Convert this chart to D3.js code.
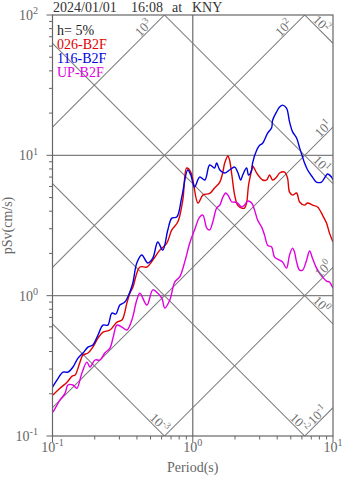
<!DOCTYPE html>
<html><head><meta charset="utf-8">
<script src="https://cdn.jsdelivr.net/npm/d3@7"></script>
<style>body{margin:0;background:#fff}svg{display:block}text{font-family:"Liberation Serif","Times New Roman",serif}</style>
</head><body><svg id="c" width="347" height="478"></svg>
<script>
const titleParts = ["2024/01/01","16:08","at","KNY"];
const legendLabels = ["h= 5%","026-B2F","116-B2F","UP-B2F"];
const seriesNames = ["026-B2F","116-B2F","UP-B2F"];
const seriesColors = ["#e00000","#0000e0","#e000e0"];
const xTicks = [0.1,1,10], xTickExp = ["-1","0","1"];
const yTicks = [0.1,1,10,100], yTickExp = ["-1","0","1","2"];
const dispLines = [100,10,1,0.1,0.01];         // Sd, cm
const dispLabels = ["2","1","0","-2","-3"];
const accLines = [1000,100,10,1,0.1];          // Sa, cm/s2
const accLabels = ["3","2","1","0","-1"];

const redT = [0.1008,0.113,0.127,0.138,0.145,0.157,0.165,0.179,0.194,0.211,0.229,0.257,0.288,0.313,0.339,0.356,0.374,0.420,0.471,0.519,0.582,0.653,0.709,0.782,0.849,0.906,0.968,1.09,1.18,1.32,1.43,1.56,1.64,1.69,1.78,1.83,1.90,1.99,2.09,2.23,2.34,2.42,2.50,2.63,2.67,2.86,3.00,3.15,3.36,3.53,3.71,3.96,4.16,4.52,4.74,4.90,5.15,5.50,5.78,6.27,6.59,7.14,7.76,8.42,8.99,9.44,10.0];
const redSv = [0.196,0.219,0.242,0.267,0.272,0.336,0.377,0.390,0.430,0.499,0.550,0.569,0.648,0.670,0.885,1.04,1.15,1.60,1.60,1.79,2.11,2.37,2.94,3.35,4.80,8.12,7.60,4.57,5.21,5.35,5.85,6.45,7.60,8.81,9.89,9.26,7.24,5.21,4.42,4.21,4.21,4.57,6.14,7.86,8.39,7.48,7.00,6.67,6.67,7.24,6.67,7.00,7.48,7.60,6.89,5.47,5.21,5.39,4.65,4.42,4.57,4.42,4.28,3.75,3.29,2.79,2.41];
const blueT = [0.100,0.1076,0.1188,0.1288,0.140,0.152,0.165,0.179,0.194,0.211,0.229,0.248,0.265,0.283,0.302,0.328,0.356,0.374,0.399,0.433,0.478,0.519,0.563,0.611,0.664,0.709,0.769,0.835,0.921,0.968,1.03,1.12,1.22,1.32,1.43,1.48,1.56,1.69,1.83,1.99,2.09,2.20,2.27,2.42,2.50,2.63,2.67,2.86,3.00,3.15,3.42,3.65,3.71,3.96,4.16,4.37,4.66,4.90,5.15,5.50,5.78,6.07,6.27,6.59,7.14,7.63,8.28,8.70,9.14,9.75,10.0];
const blueSv = [0.223,0.250,0.285,0.285,0.310,0.359,0.390,0.430,0.445,0.524,0.617,0.617,0.751,0.740,0.857,0.900,1.06,1.23,1.71,1.95,1.71,1.85,2.41,2.11,2.94,3.57,3.63,5.04,7.86,7.24,5.94,7.00,6.67,8.53,8.12,8.81,7.86,7.48,7.86,8.25,7.60,6.67,7.24,8.12,7.24,7.86,8.81,10.9,11.8,12.2,14.4,15.7,17.8,20.4,22.1,22.8,21.7,17.3,14.7,13.3,11.3,9.72,8.81,7.86,7.00,6.45,6.45,6.89,7.36,7.00,6.67];
const magT = [0.1008,0.1076,0.113,0.123,0.1288,0.140,0.149,0.162,0.176,0.185,0.201,0.218,0.236,0.257,0.270,0.288,0.313,0.339,0.368,0.399,0.420,0.471,0.519,0.563,0.602,0.632,0.686,0.744,0.807,0.877,0.952,1.03,1.12,1.18,1.26,1.32,1.39,1.48,1.56,1.64,1.72,1.80,1.90,1.99,2.09,2.23,2.34,2.46,2.63,2.76,2.90,3.10,3.25,3.42,3.65,3.83,4.16,4.37,4.66,4.90,5.15,5.32,5.50,5.78,6.07,6.48,6.81,7.14,7.63,8.01,8.42,8.99,9.44,10.0];
const magSv = [0.148,0.166,0.180,0.202,0.231,0.231,0.219,0.281,0.336,0.310,0.348,0.348,0.390,0.423,0.499,0.617,0.597,0.569,0.670,0.931,1.04,0.857,1.10,1.04,0.961,0.816,0.931,1.25,1.36,1.74,2.37,2.94,3.63,3.75,3.03,2.94,3.35,4.21,4.42,5.04,5.39,5.12,4.65,4.65,4.57,4.28,4.42,4.72,4.57,4.07,3.46,3.08,2.70,2.29,2.22,1.88,1.79,1.74,1.57,1.95,2.18,2.04,1.74,1.52,1.52,1.79,2.08,1.85,1.57,1.45,1.36,1.27,1.25,1.13];

const svg = d3.select("#c");
const L=52.5, R=333, T=15, B=436;
const x = d3.scaleLog().domain([0.1,10]).range([L,R]);
const y = d3.scaleLog().domain([0.1,100]).range([B,T]);
const axisCol="#666", gridCol="#808080", diagCol="#7a7a7a";
const TWO_PI = 2*Math.PI;

svg.append("clipPath").attr("id","clip").append("rect").attr("x",L).attr("y",T).attr("width",R-L).attr("height",B-T);
const g = svg.append("g").attr("clip-path","url(#clip)");

// grid
[1,10].forEach(v=>g.append("line").attr("x1",L).attr("x2",R).attr("y1",y(v)).attr("y2",y(v)).attr("stroke",gridCol).attr("stroke-width",1.4));
g.append("line").attr("x1",x(1)).attr("x2",x(1)).attr("y1",T).attr("y2",B).attr("stroke",gridCol).attr("stroke-width",1.4);

// diagonal lines
const dispSeg = sd => { const t0=Math.max(0.1,TWO_PI*sd/100), t1=Math.min(10,TWO_PI*sd/0.1); return [[t0,TWO_PI*sd/t0],[t1,TWO_PI*sd/t1]]; };
const accSeg = sa => { const t0=Math.max(0.1,TWO_PI*0.1/sa), t1=Math.min(10,TWO_PI*100/sa); return [[t0,sa*t0/TWO_PI],[t1,sa*t1/TWO_PI]]; };
const diagLayer = svg.append("g");
function supText(sel, base, exp, size){
  sel.append("tspan").text(base);
  sel.append("tspan").attr("dy",-size*0.4).attr("font-size",size*0.72).text(exp);
}
dispLines.forEach((sd,i)=>{
  const s = dispSeg(sd);
  g.append("line").attr("x1",x(s[0][0])).attr("y1",y(s[0][1])).attr("x2",x(s[1][0])).attr("y2",y(s[1][1])).attr("stroke",diagCol).attr("stroke-width",1.05);
  const ex=x(s[1][0]), ey=y(s[1][1]);
  const along = (s[1][0]>=9.99)?22:13, perp=6;
  const cx = ex - along/Math.SQRT2 + perp/Math.SQRT2, cy = ey - along/Math.SQRT2 - perp/Math.SQRT2;
  const t = diagLayer.append("text").attr("transform",`translate(${cx},${cy}) rotate(45)`).attr("text-anchor","middle").attr("dy","0.35em").attr("font-size",13).attr("fill","#707070");
  supText(t,"10",dispLabels[i],13);
});
accLines.forEach((sa,i)=>{
  const s = accSeg(sa);
  g.append("line").attr("x1",x(s[0][0])).attr("y1",y(s[0][1])).attr("x2",x(s[1][0])).attr("y2",y(s[1][1])).attr("stroke",diagCol).attr("stroke-width",1.05);
  const ex=x(s[1][0]), ey=y(s[1][1]);
  const along = (s[1][1]>=99.9)?24:(sa<0.5?16:8), perp=6;
  const cx = ex - along/Math.SQRT2 - perp/Math.SQRT2, cy = ey + along/Math.SQRT2 - perp/Math.SQRT2;
  const t = diagLayer.append("text").attr("transform",`translate(${cx},${cy}) rotate(-45)`).attr("text-anchor","middle").attr("dy","0.35em").attr("font-size",13).attr("fill","#707070");
  supText(t,"10",accLabels[i],13);
});

// series
const series = [[redT,redSv],[blueT,blueSv],[magT,magSv]];
const line = d3.line().x(d=>x(d[0])).y(d=>y(d[1])).curve(d3.curveCatmullRom.alpha(0.5));
series.forEach((s,i)=>{
  const pts = s[0].map((t,k)=>[t,s[1][k]]);
  g.append("path").datum(pts).attr("d",line).attr("fill","none").attr("stroke",seriesColors[i]).attr("stroke-width",1.4).attr("stroke-linejoin","round");
});

// frame
svg.append("rect").attr("x",L).attr("y",T).attr("width",R-L).attr("height",B-T).attr("fill","none").attr("stroke",axisCol).attr("stroke-width",1.2);

// ticks
const ax = svg.append("g").attr("stroke",axisCol).attr("stroke-width",1);
for (let e=-1;e<1;e++) for (let m=1;m<=9;m++){ const v=m*Math.pow(10,e); ax.append("line").attr("x1",x(v)).attr("x2",x(v)).attr("y1",B).attr("y2",B+(m===1?6:3.5)); }
ax.append("line").attr("x1",x(10)).attr("x2",x(10)).attr("y1",B).attr("y2",B+6);
for (let e=-1;e<2;e++) for (let m=1;m<=9;m++){ const v=m*Math.pow(10,e); ax.append("line").attr("y1",y(v)).attr("y2",y(v)).attr("x1",L).attr("x2",L-(m===1?6:3.5)); }
ax.append("line").attr("y1",y(100)).attr("y2",y(100)).attr("x1",L).attr("x2",L-6);

// tick labels
xTicks.forEach((v,i)=>{
  const t=svg.append("text").attr("x",x(v)).attr("y",452).attr("text-anchor","middle").attr("font-size",14).attr("fill","#666");
  supText(t,"10",xTickExp[i],14);
});
yTicks.forEach((v,i)=>{
  const t=svg.append("text").attr("x",38).attr("y",y(v)+5).attr("text-anchor","end").attr("font-size",14).attr("fill","#666");
  supText(t,"10",yTickExp[i],14);
});

// axis titles
svg.append("text").attr("x",x(1)).attr("y",472).attr("text-anchor","middle").attr("font-size",14).attr("fill","#666").text("Period(s)");
svg.append("text").attr("transform",`translate(12,${(T+B)/2}) rotate(-90)`).attr("text-anchor","middle").attr("font-size",14).attr("fill","#666").text("pSv(cm/s)");

// title
const tt = svg.append("text").attr("y",11.5).attr("font-size",14).attr("fill","#333");
const titleX=[53,131,172,192];
titleParts.forEach((p,i)=>tt.append("tspan").attr("x",titleX[i]).text(p));

// legend
const legCols = ["#222"].concat(seriesColors);
legendLabels.forEach((l,i)=>svg.append("text").attr("x",57).attr("y",35+i*14).attr("font-size",14).attr("fill",legCols[i]).text(l));
</script></body></html>
